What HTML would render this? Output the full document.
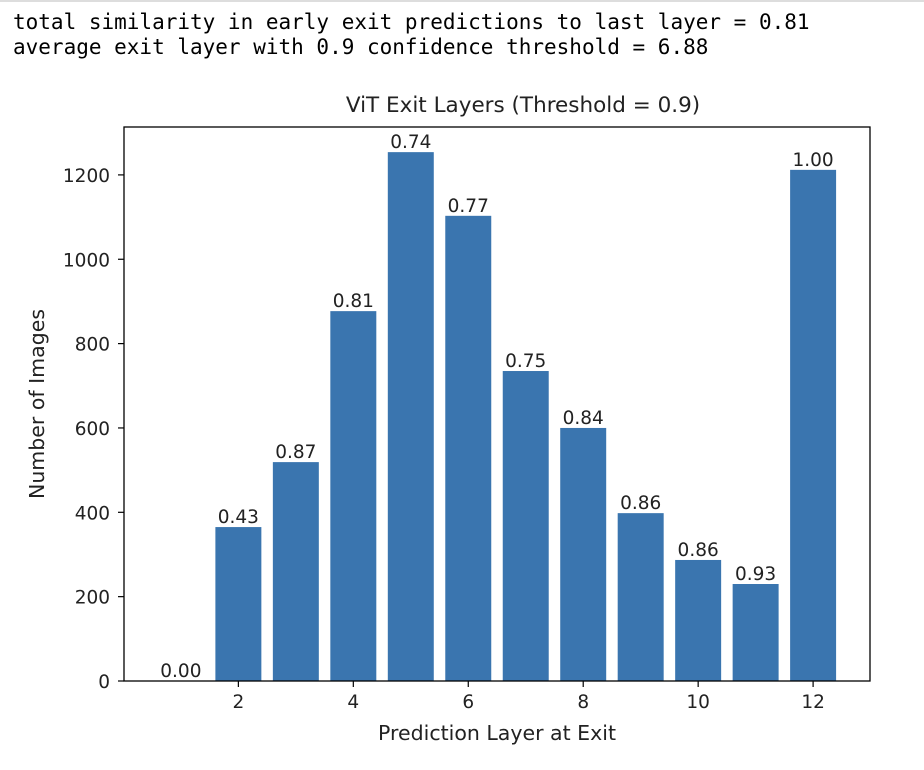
<!DOCTYPE html>
<html><head><meta charset="utf-8"><style>
body{margin:0;background:#fff;width:924px;height:770px;overflow:hidden;}
.log{position:absolute;left:13px;top:10px;font-family:"DejaVu Sans Mono","Liberation Mono",monospace;font-size:21px;line-height:25px;color:#000;white-space:pre;}
</style></head><body>
<div style="position:absolute;left:0;top:0;width:924px;height:2px;background:#ddd"></div>
<div class="log">total similarity in early exit predictions to last layer = 0.81
average exit layer with 0.9 confidence threshold = 6.88</div>
<svg id="chart" width="924" height="770" style="position:absolute;left:0;top:0" font-family="DejaVu Sans, Liberation Sans, sans-serif"></svg>
<script>
const layers=[1,2,3,4,5,6,7,8,9,10,11,12];
const counts=[0,365,519,877,1254,1103,735,600,398,287,230,1212];
const sims=["0.00","0.43","0.87","0.81","0.74","0.77","0.75","0.84","0.86","0.86","0.93","1.00"];
const yTicks=[0,200,400,600,800,1000,1200];
const xTicks=[2,4,6,8,10,12];
const L=124,R=870,T=127,B=681;
const xMin=0.01,xMax=12.99,yMax=1313.6;
const sx=v=>L+(v-xMin)/(xMax-xMin)*(R-L);
const sy=v=>B-v/yMax*(B-T);
const svg=document.getElementById('chart');
const NS='http://www.w3.org/2000/svg';
function mk(t,a){const e=document.createElementNS(NS,t);for(const k in a)e.setAttribute(k,a[k]);svg.appendChild(e);return e;}
const bw=(sx(0.8)-sx(0));
layers.forEach((l,i)=>{
 const r=mk('rect',{x:sx(l)-bw/2,y:sy(counts[i]),width:bw,height:B-sy(counts[i]),fill:'#3a75af'});
 
 
 const t=mk('text',{x:sx(l),y:sy(counts[i])-4,'text-anchor':'middle','font-size':'18.5',fill:'#222'});
 t.textContent=sims[i];
 
 
});
const f=mk('rect',{x:L,y:T,width:R-L,height:B-T,fill:'none',stroke:'#000','stroke-width':1.3});


yTicks.forEach(v=>{
 mk('line',{x1:L-6,x2:L,y1:sy(v),y2:sy(v),stroke:'#000','stroke-width':1.2});
 const t=mk('text',{x:L-14,y:sy(v)+7,'text-anchor':'end','font-size':'18.5',fill:'#222'});
 t.textContent=v;
 
 
});
xTicks.forEach(v=>{
 mk('line',{x1:sx(v),x2:sx(v),y1:B,y2:B+6,stroke:'#000','stroke-width':1.2});
 const t=mk('text',{x:sx(v),y:B+27,'text-anchor':'middle','font-size':'18.5',fill:'#222'});
 t.textContent=v;
 
 
});
let t=mk('text',{x:523,y:112,'text-anchor':'middle','font-size':'21.5',fill:'#222'});
t.textContent='ViT Exit Layers (Threshold = 0.9)';


t=mk('text',{x:497,y:740,'text-anchor':'middle','font-size':'20.5',fill:'#222'});
t.textContent='Prediction Layer at Exit';


t=mk('text',{x:0,y:0,'text-anchor':'middle','font-size':'20.5',fill:'#222',transform:'translate(44,404) rotate(-90)'});
t.textContent='Number of Images';


</script>
</body></html>
